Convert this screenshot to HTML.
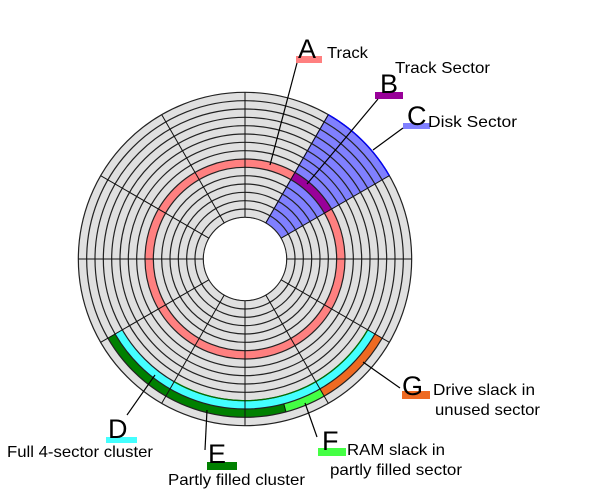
<!DOCTYPE html>
<html>
<head>
<meta charset="utf-8">
<style>
  html, body { margin: 0; padding: 0; background: #ffffff; }
  svg { display: block; }
  text { font-family: "Liberation Sans", Arial, sans-serif; fill: #000; }
</style>
</head>
<body>
<svg width="600" height="500" viewBox="0 0 600 500" xmlns="http://www.w3.org/2000/svg">
  <rect x="0" y="0" width="600" height="500" fill="#ffffff"/>

  <!-- disk background -->
  <circle cx="245" cy="259" r="166.67" fill="#e0e0e0"/>

  <!-- red track (A) -->
  <circle cx="245" cy="259" r="95.83" fill="none" stroke="#ff8080" stroke-width="8.33"/>

  <!-- blue disk sector (C) -->
  <path d="M 328.33 114.66 A 166.67 166.67 0 0 1 389.34 175.67 L 281.08 238.17 A 41.67 41.67 0 0 0 265.83 222.92 Z" fill="#8080ff"/>
  <path d="M 328.33 114.66 A 166.67 166.67 0 0 1 389.34 175.67" fill="none" stroke="#0000ff" stroke-width="1.3"/>
  <line x1="328.33" y1="114.66" x2="265.83" y2="222.92" stroke="#0000aa" stroke-width="1"/>

  <!-- purple track sector (B) -->
  <path d="M 295 172.4 A 100 100 0 0 1 331.6 209 L 324.39 213.17 A 91.67 91.67 0 0 0 290.83 179.61 Z" fill="#990099"/>

  <!-- cluster colours -->
  <path d="M 371.30 331.92 A 145.83 145.83 0 0 1 118.70 331.92" fill="none" stroke="#44ffff" stroke-width="8.33"/>
  <path d="M 284.90 407.92 A 154.17 154.17 0 0 1 111.49 336.08" fill="none" stroke="#008000" stroke-width="8.33"/>
  <path d="M 322.08 392.51 A 154.17 154.17 0 0 1 284.90 407.92" fill="none" stroke="#44ff44" stroke-width="8.33"/>
  <path d="M 378.51 336.08 A 154.17 154.17 0 0 1 322.08 392.51" fill="none" stroke="#ee6a22" stroke-width="8.33"/>

  <!-- rings -->
  <g fill="none" stroke="#222" stroke-width="1.2">
    <circle cx="245" cy="259" r="41.67"/>
    <circle cx="245" cy="259" r="50"/>
    <circle cx="245" cy="259" r="58.33"/>
    <circle cx="245" cy="259" r="66.67"/>
    <circle cx="245" cy="259" r="75"/>
    <circle cx="245" cy="259" r="83.33"/>
    <circle cx="245" cy="259" r="91.67"/>
    <circle cx="245" cy="259" r="100"/>
    <circle cx="245" cy="259" r="108.33"/>
    <circle cx="245" cy="259" r="116.67"/>
    <circle cx="245" cy="259" r="125"/>
    <circle cx="245" cy="259" r="133.33"/>
    <circle cx="245" cy="259" r="141.67"/>
    <circle cx="245" cy="259" r="150"/>
    <circle cx="245" cy="259" r="158.33"/>
    <circle cx="245" cy="259" r="166.67"/>
  </g>
  <!-- blue outer edge again on top -->
  <path d="M 328.33 114.66 A 166.67 166.67 0 0 1 389.34 175.67" fill="none" stroke="#0000ff" stroke-width="1.2"/>
  <!-- green outline on inner edge of cyan -->
  <path d="M 367.69 329.83 A 141.67 141.67 0 0 1 174.17 381.69" fill="none" stroke="#007000" stroke-width="1.2"/>

  <!-- hole -->
  <circle cx="245" cy="259" r="41.1" fill="#ffffff"/>

  <!-- spokes -->
  <g stroke="#111" stroke-width="1">
    <line x1="245" y1="217.33" x2="245" y2="92.33"/>
    <line x1="265.83" y1="222.92" x2="328.33" y2="114.66"/>
    <line x1="281.08" y1="238.17" x2="389.34" y2="175.67"/>
    <line x1="286.67" y1="259" x2="411.67" y2="259"/>
    <line x1="281.08" y1="279.83" x2="389.34" y2="342.33"/>
    <line x1="265.83" y1="295.08" x2="328.33" y2="403.34"/>
    <line x1="245" y1="300.67" x2="245" y2="425.67"/>
    <line x1="224.17" y1="295.08" x2="161.67" y2="403.34"/>
    <line x1="208.92" y1="279.83" x2="100.66" y2="342.33"/>
    <line x1="203.33" y1="259" x2="78.33" y2="259"/>
    <line x1="208.92" y1="238.17" x2="100.66" y2="175.67"/>
    <line x1="224.17" y1="222.92" x2="161.67" y2="114.66"/>
    <!-- boundary between full and partly filled sector -->
    <line x1="283.82" y1="403.89" x2="285.98" y2="411.94"/>
  </g>

  <!-- label bars -->
  <rect x="296" y="56" width="26" height="7" fill="#ff8080"/>
  <rect x="375" y="92" width="28" height="7" fill="#990099"/>
  <rect x="403" y="123" width="27" height="6" fill="#8080ff"/>
  <rect x="106" y="437" width="31" height="6" fill="#44ffff"/>
  <rect x="207" y="462" width="30" height="8" fill="#008000"/>
  <rect x="318" y="448" width="28" height="8" fill="#44ff44"/>
  <rect x="402" y="391" width="28" height="8" fill="#ee6a22"/>

  <!-- pointer lines -->
  <g stroke="#000" stroke-width="1.2">
    <line x1="297" y1="63" x2="270" y2="165"/>
    <line x1="378" y1="99" x2="307" y2="184"/>
    <line x1="403" y1="128" x2="373" y2="150"/>
    <line x1="127" y1="415" x2="155" y2="375"/>
    <line x1="205" y1="450" x2="207" y2="410"/>
    <line x1="317" y1="437" x2="305" y2="403"/>
    <line x1="400" y1="388" x2="363" y2="362"/>
  </g>

  <!-- big letters -->
  <g font-size="27">
    <text x="298" y="58">A</text>
    <text x="380" y="93">B</text>
    <text x="407" y="125">C</text>
    <text x="108" y="438">D</text>
    <text x="208" y="463">E</text>
    <text x="322" y="450">F</text>
    <text x="402" y="395">G</text>
  </g>

  <!-- descriptions -->
  <g font-size="16">
    <text x="327" y="58" textLength="41" lengthAdjust="spacingAndGlyphs">Track</text>
    <text x="395" y="73" textLength="95" lengthAdjust="spacingAndGlyphs">Track Sector</text>
    <text x="428" y="127" textLength="89" lengthAdjust="spacingAndGlyphs">Disk Sector</text>
    <text x="7" y="457" textLength="146" lengthAdjust="spacingAndGlyphs">Full 4-sector cluster</text>
    <text x="168" y="485" textLength="137" lengthAdjust="spacingAndGlyphs">Partly filled cluster</text>
    <text x="433" y="395" textLength="102" lengthAdjust="spacingAndGlyphs">Drive slack in</text>
    <text x="435" y="415" textLength="105" lengthAdjust="spacingAndGlyphs">unused sector</text>
    <text x="347" y="455" textLength="98" lengthAdjust="spacingAndGlyphs">RAM slack in</text>
    <text x="330" y="475" textLength="132" lengthAdjust="spacingAndGlyphs">partly filled sector</text>
  </g>
</svg>
</body>
</html>
